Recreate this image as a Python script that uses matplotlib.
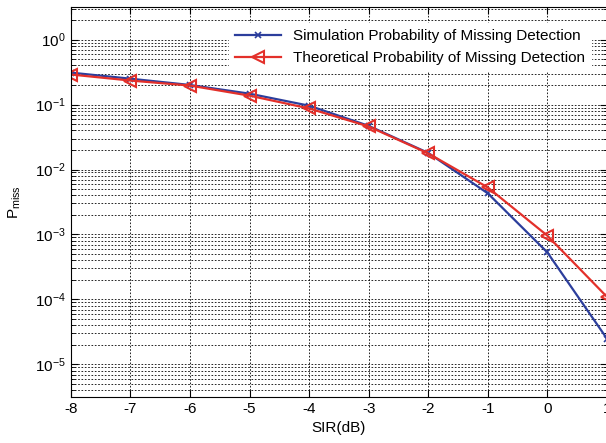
import numpy as np
import matplotlib.pyplot as plt
from matplotlib.ticker import LogLocator, NullFormatter

plt.rcParams['font.family'] = ['Liberation Sans', 'DejaVu Sans']
plt.rcParams['mathtext.fontset'] = 'custom'
plt.rcParams['mathtext.rm'] = 'Liberation Sans'
plt.rcParams['mathtext.default'] = 'regular'
plt.rcParams['axes.unicode_minus'] = False

sir = [-8, -7, -6, -5, -4, -3, -2, -1, 0, 1]
p_sim = [0.31, 0.25, 0.20, 0.147, 0.096, 0.047, 0.018, 0.0043, 0.00053, 2.5e-5]
p_theory = [0.29, 0.234, 0.196, 0.137, 0.087, 0.046, 0.0177, 0.0053, 0.00096, 1.1e-4]

fig = plt.figure(figsize=(6.06, 4.43), dpi=100)
ax = fig.add_axes([0.117, 0.104, 0.8845, 0.880])

ax.semilogy(sir, p_sim, color='#2c3e9c', lw=1.6, marker='x', ms=4, mew=1.2,
            label='Simulation Probability of Missing Detection')
ax.semilogy(sir, p_theory, color='#e3302a', lw=1.6, marker='<', ms=9, mew=1.5,
            mfc='none', label='Theoretical Probability of Missing Detection')

ax.set_xlim(-8, 1)
ax.set_ylim(10 ** -5.5, 10 ** 0.5)
ax.set_xticks(sir)
ax.yaxis.set_major_locator(LogLocator(base=10, numticks=10))
ax.yaxis.set_minor_locator(LogLocator(base=10, subs=np.arange(2, 10), numticks=20))
ax.yaxis.set_minor_formatter(NullFormatter())

gs = dict(color='black', linestyle=(0, (2, 2)), linewidth=0.6)
ax.grid(True, which='major', axis='both', **gs)
ax.grid(True, which='minor', axis='y', **gs)

ax.tick_params(which='both', direction='in', top=True, right=True, labelsize=11)
ax.tick_params(which='major', length=5)
ax.tick_params(which='minor', length=3)

ax.set_xlabel('SIR(dB)', fontsize=11, labelpad=4)
ax.set_ylabel('P$_{miss}$', fontsize=11, labelpad=9)

leg = ax.legend(loc='upper right', fontsize=11, frameon=True, fancybox=False,
                framealpha=1, edgecolor='white', handlelength=3,
                borderaxespad=1.05)

fig.savefig('out.png', dpi=100)
